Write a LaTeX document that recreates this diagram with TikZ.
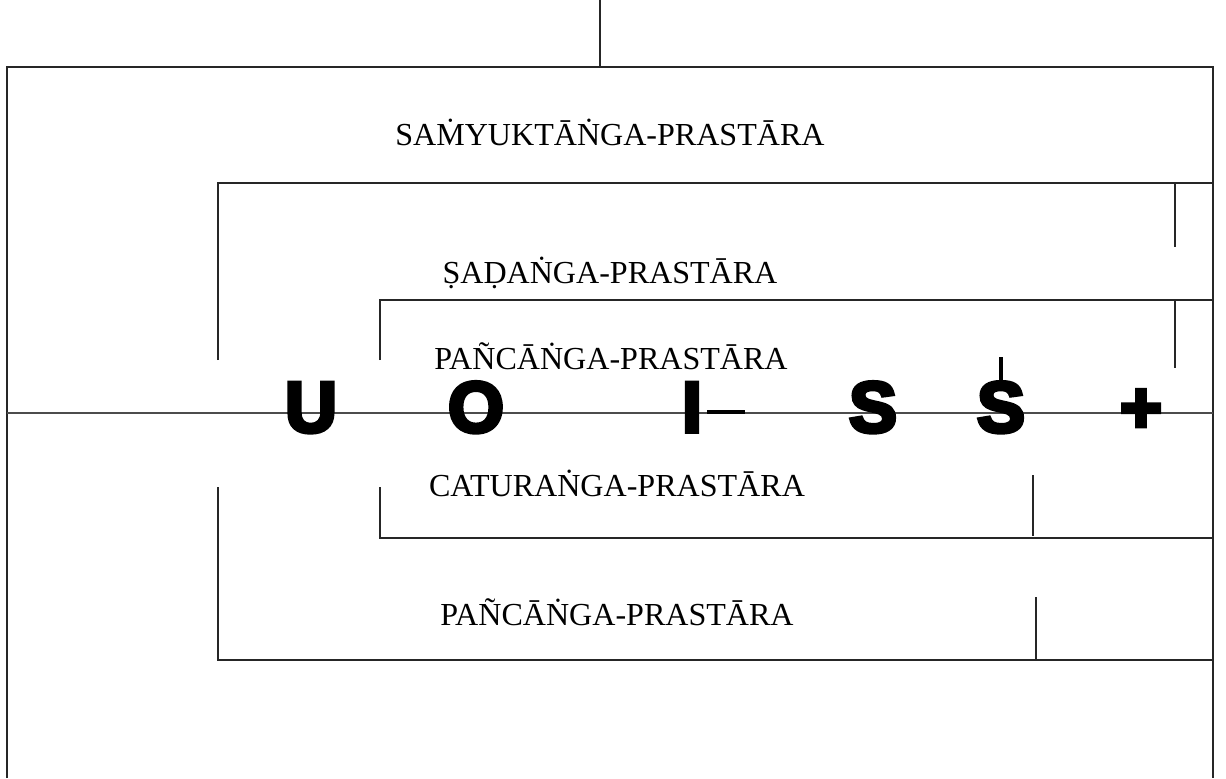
\documentclass[tikz,border=0pt]{standalone}
\usepackage{fontspec}
\setmainfont{Liberation Serif}
\newfontfamily\signfont[FakeBold=5.5]{Liberation Sans Bold}
\usetikzlibrary{positioning}

\begin{document}
\begin{tikzpicture}[x=0.025cm, y=-0.025cm,
    frame/.style={draw=black!85, line width=1pt},
    title/.style={anchor=base, inner sep=0pt, font=\fontsize{22.8}{26}\selectfont},
    sign/.style={anchor=base, inner sep=0pt, font=\signfont\fontsize{51}{60}\selectfont}]
    \useasboundingbox (0,0) rectangle (1226,778);

    % Outer frame
    \draw[frame] (600,0) -- (600,67);
    \draw[frame] (7,778) -- (7,67) -- (1213,67) -- (1213,778);

    % Upper frames
    \draw[frame] (218,360) -- (218,183) -- (1213,183);
    \draw[frame] (1175,183) -- (1175,247);
    \draw[frame] (380,360) -- (380,300) -- (1213,300);
    \draw[frame] (1175,300) -- (1175,368);

    % Lower frames
    \draw[frame] (380,487) -- (380,538) -- (1213,538);
    \draw[frame] (1033,475) -- (1033,536);
    \draw[frame] (218,487) -- (218,660) -- (1213,660);
    \draw[frame] (1036,597) -- (1036,660);

    % Middle line
    \draw[draw=black!70, line width=1.2pt] (7,413) -- (1213,413);

    % Labels
    \node[title] (samyukta) at (610,145) {SAṀYUKTĀṄGA-PRASTĀRA};
    \node[title] (sadanga) at (610,283) {ṢAḌAṄGA-PRASTĀRA};
    \node[title] (pancanga) at (611,369) {PAÑCĀṄGA-PRASTĀRA};
    \node[title] (caturanga) at (617,496) {CATURAṄGA-PRASTĀRA};
    \node[title] (pancangaB) at (617,625) {PAÑCĀṄGA-PRASTĀRA};

    % Signs on the middle line
    \node[sign] (gU) at (311,432) {U};
    \node[sign] (gO) at (476,432) {O};
    \node[sign] (gI) at (692,432) {I};
    \node[sign] (gS) at (873,432) {S};
    \node[sign] (gD) at (1001,432) {S};
    \node[sign] (gP) at (1141,432) {+};
    \draw[line width=2.2pt] (707,412) -- (745,412);
    \draw[line width=3.5pt] (1001,357) -- (1001,385);
\end{tikzpicture}
\end{document}
